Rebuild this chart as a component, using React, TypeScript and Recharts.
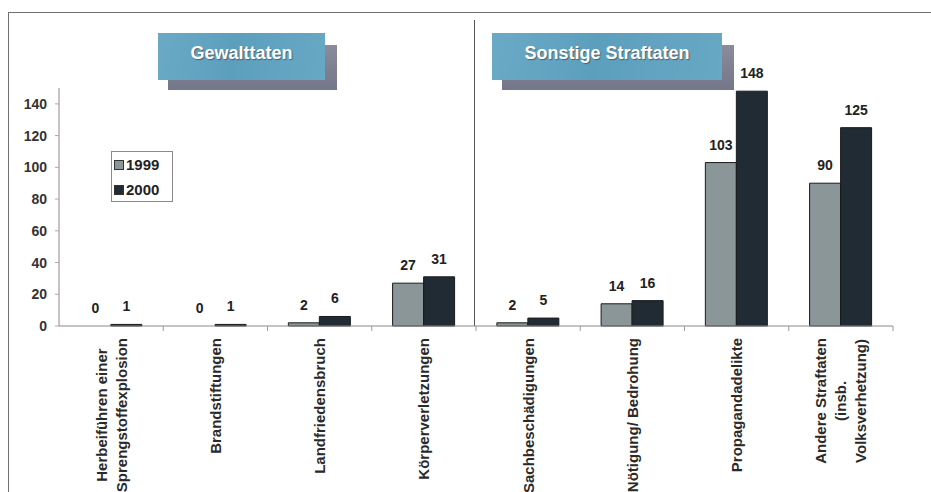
import React from 'react';
import { BarChart, Bar, XAxis, YAxis, LabelList, Legend, Cell } from 'recharts';

// Offence categories (line breaks mark wrapped axis labels)
const categories = [
  'Herbeiführen einer\nSprengstoffexplosion',
  'Brandstiftungen',
  'Landfriedensbruch',
  'Körperverletzungen',
  'Sachbeschädigungen',
  'Nötigung/ Bedrohung',
  'Propagandadelikte',
  'Andere Straftaten\n(insb.\nVolksverhetzung)',
];
const values1999 = [0, 0, 2, 27, 2, 14, 103, 90];
const values2000 = [1, 1, 6, 31, 5, 16, 148, 125];
const seriesNames = ['1999', '2000'];
const yTicks = [0, 20, 40, 60, 80, 100, 120, 140];
const panelTitles = ['Gewalttaten', 'Sonstige Straftaten'];

const data = categories.map((name, i) => ({
  name,
  y1999: values1999[i],
  y2000: values2000[i],
}));

const FONT = '"Liberation Sans", Arial, Helvetica, sans-serif';
const COLOR_1999 = '#8b9699';
const COLOR_2000 = '#202b34';
const BAR_STROKE = '#1a1a1a';
const LABEL_FS = 15;

let measureCtx: CanvasRenderingContext2D | null = null;
function measure(text: string): number {
  if (!measureCtx) {
    const c = document.createElement('canvas');
    measureCtx = c.getContext('2d');
  }
  if (!measureCtx) return text.length * LABEL_FS * 0.6;
  measureCtx.font = `bold ${LABEL_FS}px ${FONT}`;
  return measureCtx.measureText(text).width;
}

function CategoryTick(props: any) {
  const { x, y, payload, index, visibleTicksCount } = props;
  const lines = String(payload.value).split('\n');
  const maxW = Math.max(...lines.map(measure));
  const lineH = 20;
  const top = y + 12;
  const centerAlong = top + maxW / 2;
  const half = typeof payload.offset === 'number' ? payload.offset : 0;
  const isLast = index === (visibleTicksCount ?? categories.length) - 1;
  return (
    <g>
      {half > 0 && index > 0 && (
        <line x1={x - half} x2={x - half} y1={y} y2={y + 5} stroke="#9a9a9a" />
      )}
      {half > 0 && isLast && (
        <line x1={x + half} x2={x + half} y1={y} y2={y + 5} stroke="#9a9a9a" />
      )}
      {lines.map((ln, i) => {
        const cx = x + (i - (lines.length - 1) / 2) * lineH;
        return (
          <text
            key={i}
            transform={`translate(${cx},${centerAlong}) rotate(-90)`}
            textAnchor="middle"
            dominantBaseline="central"
            fontFamily={FONT}
            fontWeight="bold"
            fontSize={LABEL_FS}
            fill="#2a2a2a"
          >
            {ln}
          </text>
        );
      })}
    </g>
  );
}

// Value label above a bar; zero values keep their label on the baseline
function ValueLabel(props: any) {
  const { x, y, width, height, value } = props;
  if (value === undefined || value === null) return null;
  const top = Math.min(y, y + height);
  return (
    <text
      x={x + width / 2}
      y={top - 13}
      textAnchor="middle"
      fill="#222"
      fontSize={14}
      fontWeight="bold"
      fontFamily={FONT}
    >
      {value}
    </text>
  );
}

function LegendBox(props: any) {
  const payload = props.payload || [];
  return (
    <div
      style={{
        border: '1px solid #8a8a8a',
        background: '#fff',
        width: 62,
        height: 51,
        boxSizing: 'border-box',
        paddingLeft: 2,
      }}
    >
      {payload.map((p: any) => (
        <div
          key={p.value}
          style={{ display: 'flex', alignItems: 'center', height: 25 }}
        >
          <span
            style={{
              display: 'inline-block',
              width: 8,
              height: 8,
              background: p.color,
              border: '1px solid #333',
              marginRight: 2,
            }}
          />
          <span
            style={{
              fontFamily: FONT,
              fontWeight: 'bold',
              fontSize: 15,
              color: '#222',
            }}
          >
            {p.value}
          </span>
        </div>
      ))}
    </div>
  );
}

function Banner({ title, left, top, width }: { title: string; left: number; top: number; width: number }) {
  return (
    <>
      <div
        style={{
          position: 'absolute',
          left: left + 10,
          top: top + 12,
          width: width + 2,
          height: 45,
          background: 'linear-gradient(180deg, #8a8b9b, #74768a)',
        }}
      />
      <div
        style={{
          position: 'absolute',
          left,
          top,
          width,
          height: 47,
          background: 'linear-gradient(100deg, #6aaac6 0%, #5c9fbd 45%, #67a8c4 100%)',
          display: 'flex',
          alignItems: 'flex-start',
          justifyContent: 'center',
          paddingTop: 10,
          boxSizing: 'border-box',
          color: '#fff',
          fontFamily: FONT,
          fontWeight: 'bold',
          fontSize: 18,
          textShadow: '1px 1px 1px #50606c',
        }}
      >
        {title}
      </div>
    </>
  );
}

// Zero-valued bars get a hairline height so their value label is still placed
const keepZero = (value: any) => (value === 0 ? 0.01 : 0);

export default function App() {
  return (
    <div
      style={{
        position: 'absolute',
        left: 0,
        top: 0,
        width: 931,
        height: 492,
        background: '#fff',
        overflow: 'hidden',
      }}
    >
      {/* page frame */}
      <div
        style={{
          position: 'absolute',
          left: 8,
          top: 12,
          width: 930,
          height: 490,
          borderTop: '1px solid #707070',
          borderLeft: '1px solid #707070',
        }}
      />
      {/* panel divider */}
      <div
        style={{
          position: 'absolute',
          left: 474,
          top: 20,
          width: 1,
          height: 306,
          background: '#555',
        }}
      />
      <Banner title={panelTitles[0]} left={158} top={33} width={167} />
      <Banner title={panelTitles[1]} left={492} top={33} width={230} />
      <div style={{ position: 'absolute', left: 0, top: 0 }}>
        <BarChart
          width={931}
          height={492}
          data={data}
          margin={{ top: 88, right: 38, bottom: 0, left: 0 }}
          barCategoryGap="20%"
          barGap={0}
        >
          <XAxis
            dataKey="name"
            height={166}
            interval={0}
            tickSize={0}
            tickMargin={0}
            tickLine={false}
            tick={<CategoryTick />}
            axisLine={{ stroke: '#8a8a8a' }}
          />
          <YAxis
            domain={[0, 150]}
            ticks={yTicks}
            interval={0}
            width={59}
            tickSize={4}
            tickMargin={8}
            axisLine={{ stroke: '#8a8a8a' }}
            tickLine={{ stroke: '#aaa' }}
            tick={{ fill: '#333', fontSize: 14, fontWeight: 'bold', fontFamily: FONT }}
          />
          <Legend
            layout="vertical"
            align="center"
            verticalAlign="middle"
            content={<LegendBox />}
            wrapperStyle={{ left: 111, top: 151, width: 62, height: 51, bottom: 'auto', right: 'auto' }}
          />
          <Bar
            dataKey="y1999"
            name={seriesNames[0]}
            fill={COLOR_1999}
            stroke={BAR_STROKE}
            strokeWidth={1}
            minPointSize={keepZero}
            isAnimationActive={false}
          >
            {values1999.map((v, i) => (
              <Cell key={i} fill={COLOR_1999} stroke={v === 0 ? 'none' : BAR_STROKE} />
            ))}
            <LabelList dataKey="y1999" content={<ValueLabel />} />
          </Bar>
          <Bar
            dataKey="y2000"
            name={seriesNames[1]}
            fill={COLOR_2000}
            stroke={BAR_STROKE}
            strokeWidth={1}
            minPointSize={keepZero}
            isAnimationActive={false}
          >
            {values2000.map((v, i) => (
              <Cell key={i} fill={COLOR_2000} stroke={v === 0 ? 'none' : BAR_STROKE} />
            ))}
            <LabelList dataKey="y2000" content={<ValueLabel />} />
          </Bar>
        </BarChart>
      </div>
    </div>
  );
}
